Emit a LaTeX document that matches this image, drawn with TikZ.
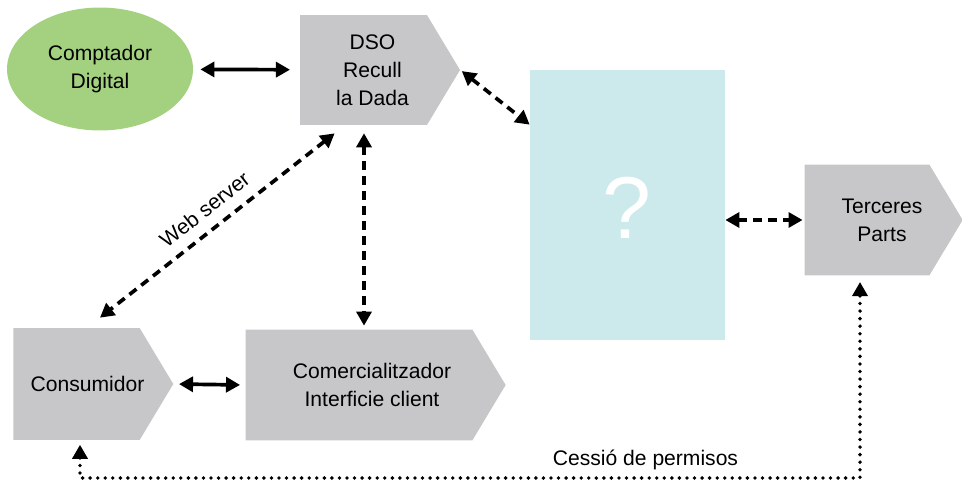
\documentclass[tikz,border=0pt]{standalone}
\usepackage{fontspec}
\setmainfont{Liberation Sans}
\usetikzlibrary{shapes.symbols,shapes.geometric,arrows.meta}
\definecolor{boxgray}{RGB}{199,199,201}
\definecolor{boxblue}{RGB}{204,233,236}
\definecolor{boxgreen}{RGB}{163,209,127}
\tikzset{
  lbl/.style={font=\fontsize{12}{16}\selectfont, align=center},
  sigbox/.style={shape=signal, signal to=east, signal from=nowhere,
    signal pointer angle=118, fill=boxgray, inner sep=0pt},
  solidarr/.style={line width=2.1pt, {Triangle[length=8pt,width=8.5pt]}-{Triangle[length=8pt,width=8.5pt]}},
  dasharr/.style={solidarr, dash pattern=on 5pt off 3.5pt},
  dotarr/.style={line width=2.2pt, line cap=round, dash pattern=on 0pt off 4.3pt,
    {Triangle[length=8pt,width=8.5pt]}-{Triangle[length=8pt,width=8.5pt]}}
}
\begin{document}
\begin{tikzpicture}[x=0.02cm,y=-0.02cm]
\useasboundingbox (0,0) rectangle (962,482);
% nodes
\node[lbl, ellipse, fill=boxgreen, minimum width=3.72cm, minimum height=2.46cm, inner sep=0pt] (comptador) at (100,69) {Comptador\\Digital};
\node[sigbox, minimum width=3.2cm, minimum height=2.2cm, label={[lbl, xshift=0.18cm]center:DSO\\Recull\\la Dada}] (dso) at (363.5,70) {};
\node[fill=boxblue, minimum width=3.9cm, minimum height=5.4cm, inner sep=0pt] (nube) at (627.5,205) {};
\node[text=white, font=\fontsize{50}{50}\selectfont, anchor=base, inner sep=0pt] (pregunta) at (627,239) {?};
\node[sigbox, minimum width=3.16cm, minimum height=2.22cm, label={[lbl, xshift=0.3cm]center:Terceres\\Parts}] (terceres) at (867,220) {};
\node[sigbox, minimum width=3.2cm, minimum height=2.24cm, label={[lbl, xshift=0.22cm]center:Consumidor}] (consumidor) at (76.5,384) {};
\node[sigbox, minimum width=5.2cm, minimum height=2.22cm, label={[lbl, xshift=0.26cm]center:Comercialitzador\\Interficie client}] (comercial) at (359,385) {};
\coordinate (vx) at (364,0);
\coordinate (dl) at (80,478);
\coordinate (dr) at (860,478);
% connectors
\draw[solidarr, shorten <=4pt, shorten >=5.5pt] (comptador) -- (dso);
\draw[dasharr, shorten <=1pt] (dso.east) -- ([yshift=-1.1cm]nube.north west);
\draw[dasharr] ([xshift=0.7cm,yshift=-0.16cm]dso.south west) -- node[lbl, sloped, above=3pt]{Web server} ([xshift=0.47cm,yshift=0.2cm]consumidor.north);
\draw[dasharr, shorten <=4.5pt, shorten >=2pt] (dso.south -| vx) -- (comercial.north -| vx);
\draw[solidarr, shorten <=3pt, shorten >=3pt] (consumidor.east) -- (comercial.west);
\draw[dasharr, shorten >=1pt] (terceres.west -| nube.east) -- (terceres.west);
\draw[dotarr, shorten <=2.5pt, shorten >=3.5pt] (consumidor.south -| dl) -- (dl) -- node[lbl, above, pos=0.725]{Cessió de permisos} (dr) -- (terceres.south -| dr);
\end{tikzpicture}
\end{document}
